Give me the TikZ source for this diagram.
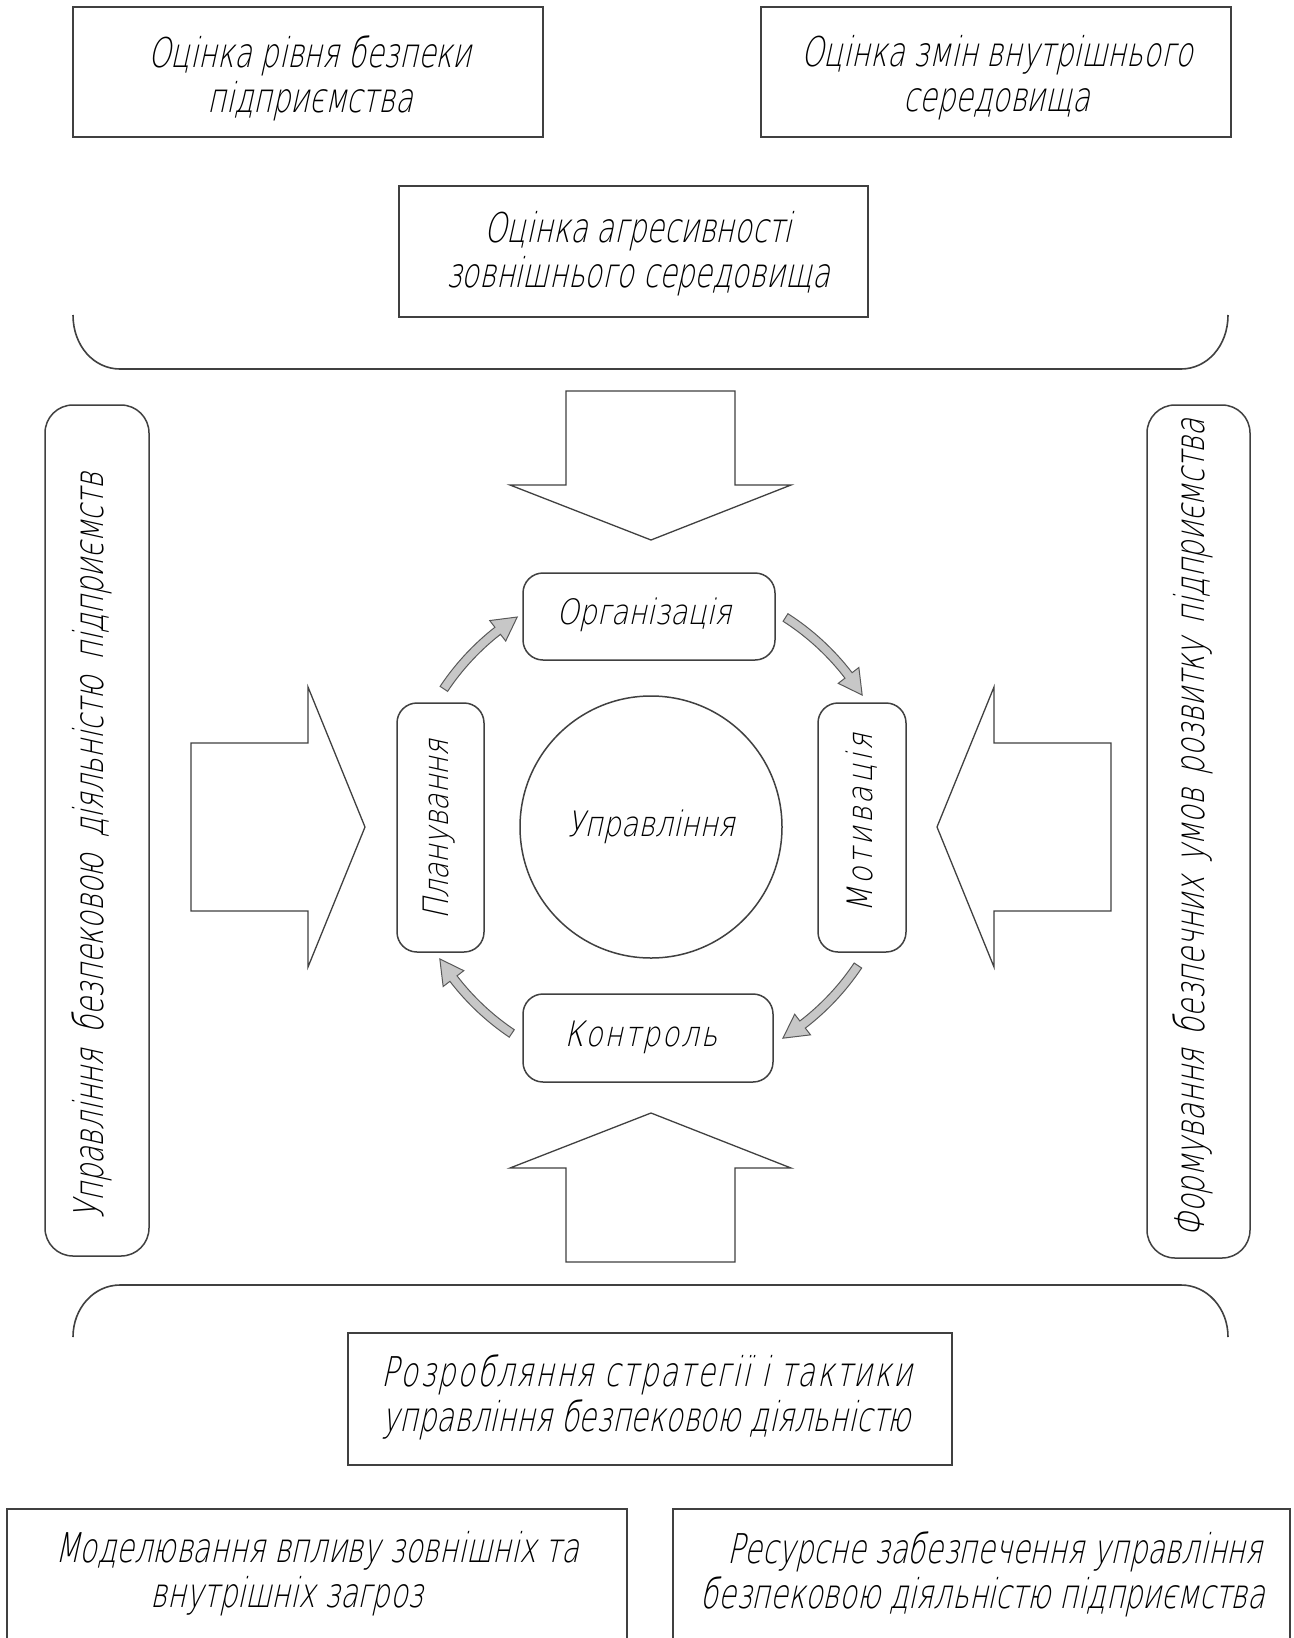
\documentclass[tikz,border=0pt]{standalone}
\usepackage{fontspec}
\IfFontExistsTF{DejaVu Sans ExtraLight}{%
  \newfontfamily\gf{DejaVu Sans ExtraLight}[FakeStretch=0.70,FakeSlant=0.22]%
  \newfontfamily\gfi{DejaVu Sans ExtraLight}[FakeStretch=0.81,FakeSlant=0.22]%
}{%
  \newfontfamily\gf{DejaVu Sans}[FakeStretch=0.70,FakeSlant=0.22]%
  \newfontfamily\gfi{DejaVu Sans}[FakeStretch=0.81,FakeSlant=0.22]%
}
\newcommand\wsp{\hspace{16pt}}
\begin{document}
\begin{tikzpicture}[x=1pt,y=-1pt,
  box/.style={draw=black!75, line width=1.5pt, inner sep=0pt},
  rbox/.style={box, rounded corners=20pt},
  tbox/.style={box, rounded corners=28pt},
  txt/.style={font=\gf\fontsize{41}{45}\selectfont, align=center, inner sep=0pt},
  itxt/.style={font=\gfi\fontsize{35}{38}\selectfont, inner sep=0pt},
  blk/.style={draw=black!75, line width=1.3pt, fill=white, line join=miter},
  brk/.style={draw=black!75, line width=1.6pt},
  garr/.style={draw=black!65, fill=black!22, line width=1pt, line join=miter}]
\fill[white] (0,0) rectangle (1293,1638);
\useasboundingbox (0,0) rectangle (1293,1638);

% top boxes
\node[box, minimum width=470pt, minimum height=130pt] (b1) at (308,72) {};
\node[box, minimum width=470pt, minimum height=130pt] (b2) at (996,72) {};
\node[box, minimum width=469pt, minimum height=131pt] (b3) at (633.5,251.5) {};
\node[txt] (t1) at (310,78) {Оцінка рівня безпеки\\підприємства};
\node[txt] (t2) at (997,78) {Оцінка змін внутрішнього\\середовища};
\node[txt] (t3) at (638,254) {Оцінка агресивності\\зовнішнього середовища};

% top bracket
\draw[brk] (73,315) .. controls (73,346) and (94,369) .. (120,369) -- (1181,369)
  .. controls (1207,369) and (1228,346) .. (1228,315);
% bottom bracket
\draw[brk] (73,1337) .. controls (73,1308) and (94,1285) .. (120,1285) -- (1181,1285)
  .. controls (1207,1285) and (1228,1308) .. (1228,1337);

% side boxes
\node[tbox, minimum width=104pt, minimum height=851pt] (lb) at (97,830.5) {};
\node[tbox, minimum width=103pt, minimum height=853pt] (rb) at (1198.5,831.5) {};
\node[txt, rotate=90] (lt) at (92,846) {Управління\wsp безпековою\wsp діяльністю\wsp підприємств};
\node[txt, rotate=90] (rt) at (1193,828) {Формування\hspace{5pt} безпечних\hspace{5pt} умов\hspace{5pt} розвитку\hspace{5pt} підприємства};

% central cycle
\node[circle, draw=black!75, line width=1.5pt, minimum size=262pt, inner sep=0pt, itxt] (upr) at (651,827) {Управління};
\node[rbox, minimum width=252pt, minimum height=87pt] (org) at (649,616.5) {};
\node[rbox, minimum width=250pt, minimum height=88pt] (ktr) at (648,1038) {};
\node[rbox, minimum width=87pt, minimum height=249pt] (pln) at (440.5,827.5) {};
\node[rbox, minimum width=88pt, minimum height=249pt] (mot) at (862,827.5) {};
\node[itxt] (orgt) at (644,615) {Організація};
\node[itxt] (ktrt) at (641,1037) {\addfontfeature{LetterSpace=5}Контроль};
\node[itxt, rotate=90] (plnt) at (439,830) {Планування};
\node[itxt, rotate=90] (mott) at (862,823) {\addfontfeature{LetterSpace=9}Мотивація};

% big block arrows
\draw[blk] (566,391) -- (735,391) -- (735,485) -- (791,485) -- (651,540) -- (510,485) -- (566,485) -- cycle;
\draw[blk] (566,1262) -- (735,1262) -- (735,1168) -- (791,1168) -- (651,1113) -- (510,1168) -- (566,1168) -- cycle;
\draw[blk] (191,743) -- (308,743) -- (308,687) -- (365,827) -- (308,967) -- (308,911) -- (191,911) -- cycle;
\draw[blk] (1111,743) -- (994,743) -- (994,687) -- (937,827) -- (994,967) -- (994,911) -- (1111,911) -- cycle;

% grey curved arrows
\newcommand\grarrow[2]{%
  \draw[garr] (#1:253.5) arc[start angle=#1, end angle={#2-5.5}, radius=253.5]
    -- ({#2-5.5}:262) -- (#2:249) -- ({#2-5.5}:236) -- ({#2-5.5}:244.5)
    arc[start angle={#2-5.5}, end angle=#1, radius=244.5] -- cycle;}
\begin{scope}[shift={(upr.center)}]
  \grarrow{213.7}{237.5}
  \grarrow{302.7}{328}
  \grarrow{33.8}{58}
  \grarrow{124}{148}
\end{scope}

% bottom boxes
\node[box, minimum width=604pt, minimum height=132pt] (b4) at (650,1399) {};
\node[txt] (t4) at (647,1397) {{\addfontfeature{LetterSpace=4.5}Розробляння стратегії і тактики}\\управління безпековою діяльністю};
\node[box, minimum width=620pt, minimum height=160pt] (b5) at (317,1589) {};
\node[box, minimum width=617pt, minimum height=160pt] (b6) at (981.5,1589) {};
\node[txt] (t5) at (317,1574) {Моделювання впливу зовнішніх та\\внутрішніх загроз\hspace*{60pt}};
\node[txt] (t6) at (983,1574) {\hspace*{24pt}Ресурсне забезпечення управління\\безпековою діяльністю підприємства};
\end{tikzpicture}
\end{document}
